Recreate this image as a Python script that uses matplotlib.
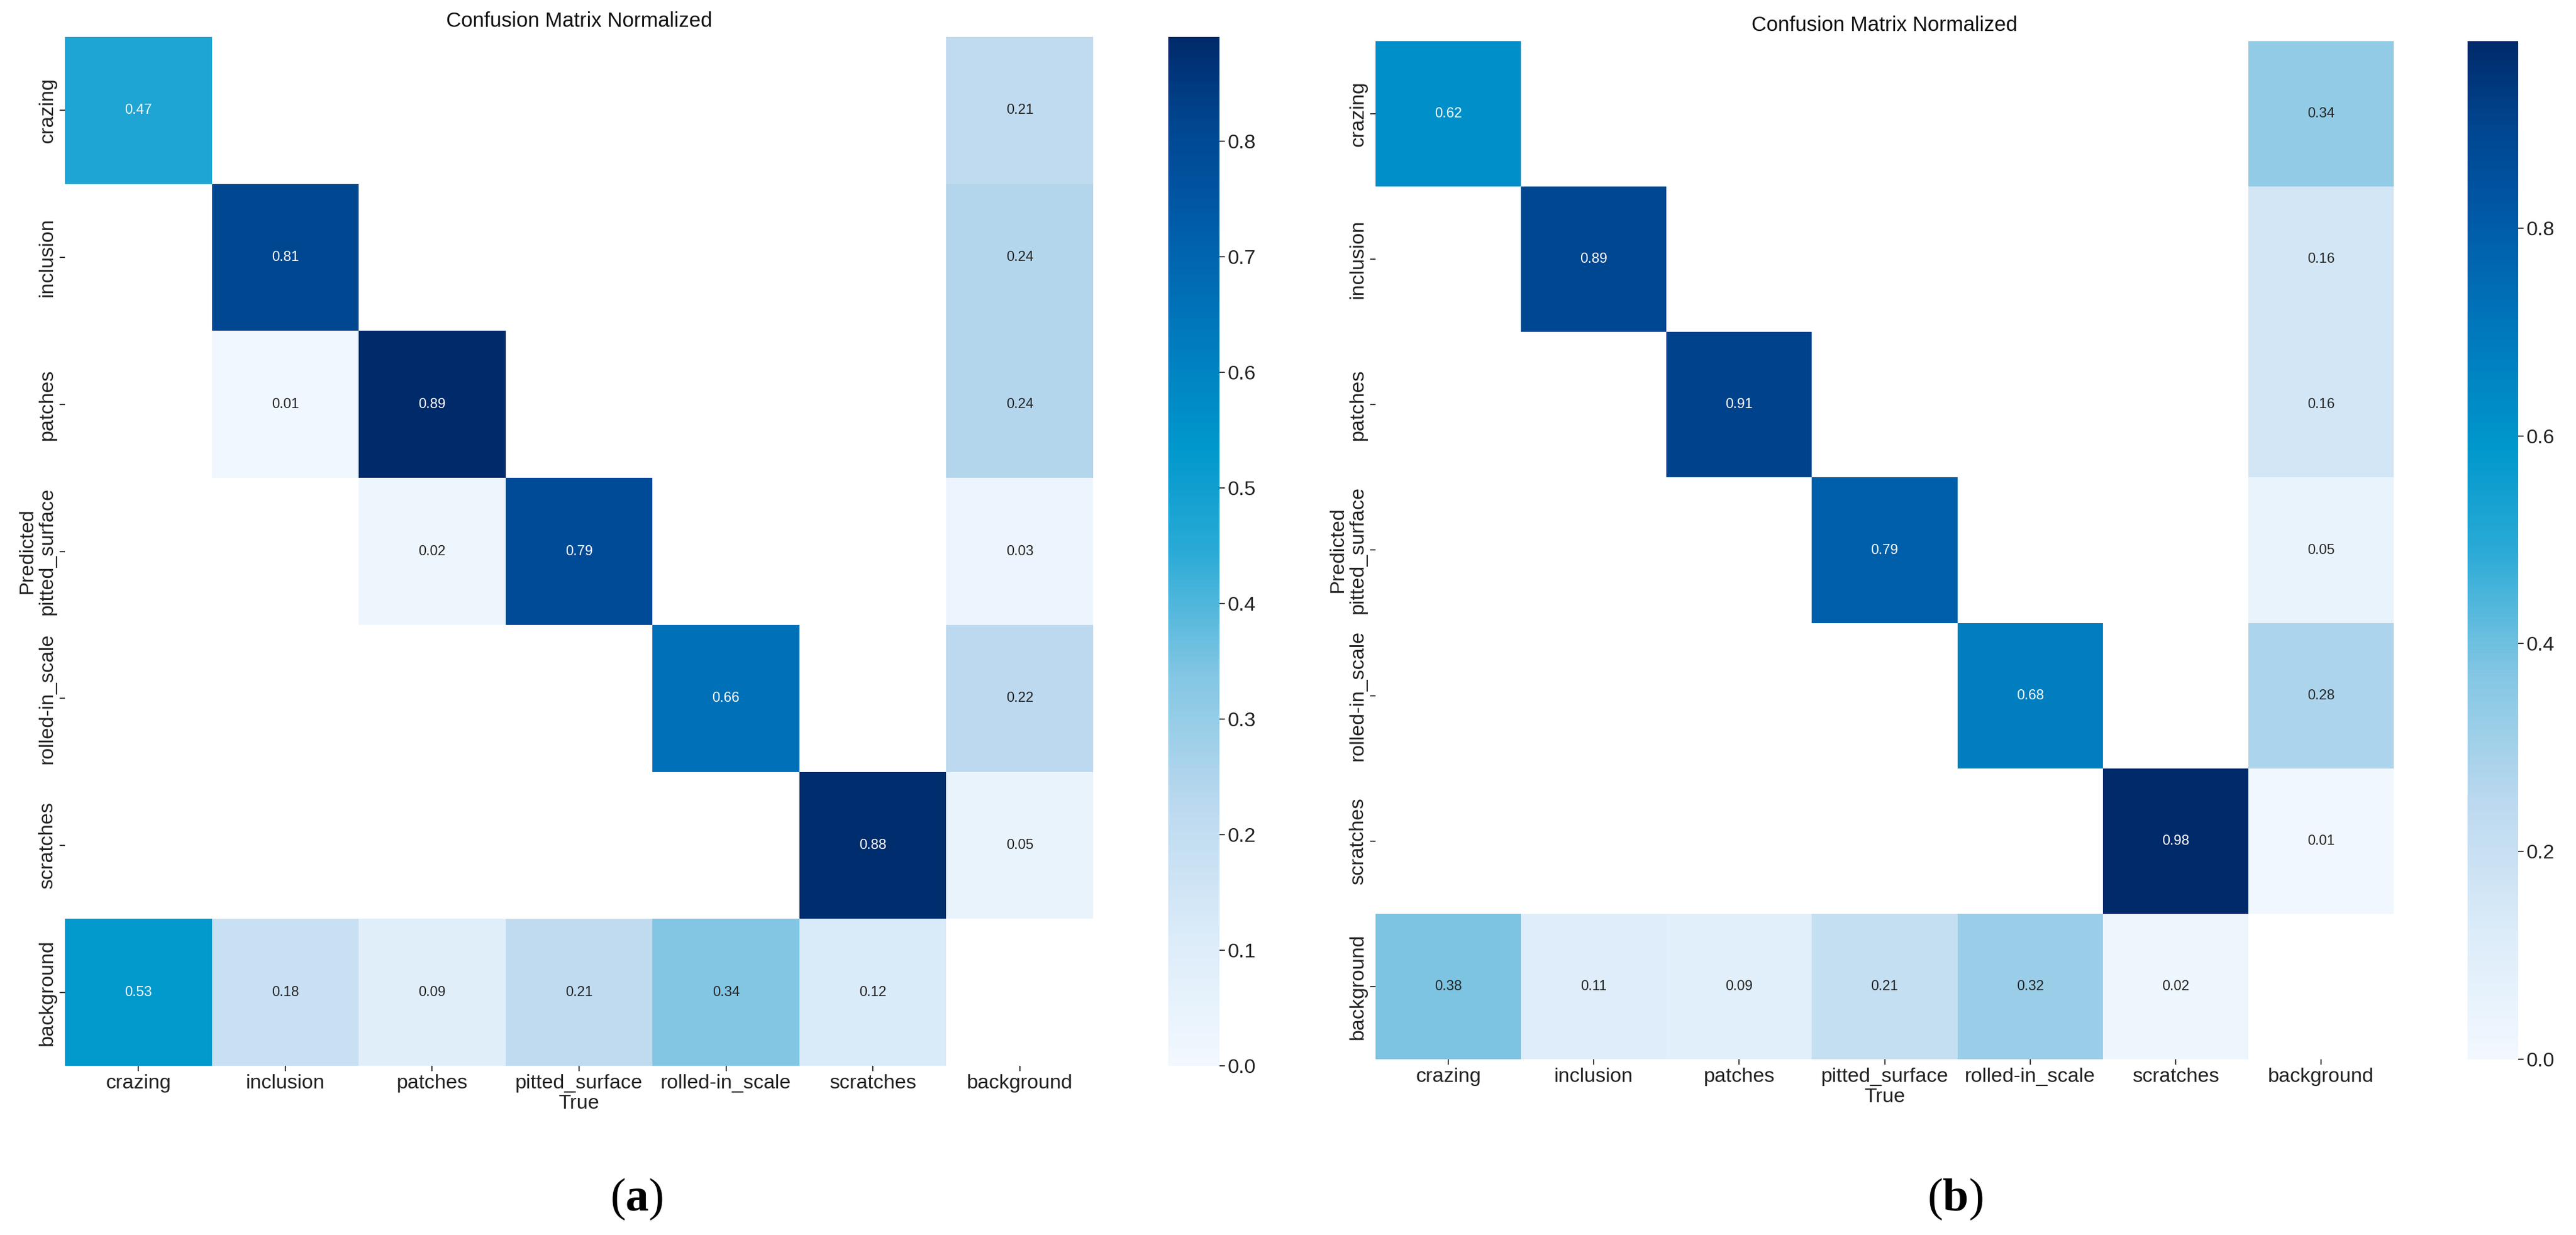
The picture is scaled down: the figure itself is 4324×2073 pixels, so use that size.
import numpy as np
import matplotlib
matplotlib.use('Agg')
import matplotlib.pyplot as plt
import seaborn as sns
from matplotlib.colors import LinearSegmentedColormap

nan = np.nan

# class names (rows = Predicted, cols = True)
labels = ['crazing', 'inclusion', 'patches', 'pitted_surface',
          'rolled-in_scale', 'scratches', 'background']

# normalized confusion matrix, model (a)
cm_a = [
    [0.47, nan, nan, nan, nan, nan, 0.21],
    [nan, 0.81, nan, nan, nan, nan, 0.24],
    [nan, 0.01, 0.89, nan, nan, nan, 0.24],
    [nan, nan, 0.02, 0.79, nan, nan, 0.03],
    [nan, nan, nan, nan, 0.66, nan, 0.22],
    [nan, nan, nan, nan, nan, 0.88, 0.05],
    [0.53, 0.18, 0.09, 0.21, 0.34, 0.12, nan],
]

# normalized confusion matrix, model (b)
cm_b = [
    [0.62, nan, nan, nan, nan, nan, 0.34],
    [nan, 0.89, nan, nan, nan, nan, 0.16],
    [nan, nan, 0.91, nan, nan, nan, 0.16],
    [nan, nan, nan, 0.79, nan, nan, 0.05],
    [nan, nan, nan, nan, 0.68, nan, 0.28],
    [nan, nan, nan, nan, nan, 0.98, 0.01],
    [0.38, 0.11, 0.09, 0.21, 0.32, 0.02, nan],
]

cbar_ticks_a = [0.0, 0.1, 0.2, 0.3, 0.4, 0.5, 0.6, 0.7, 0.8]
cbar_ticks_b = [0.0, 0.2, 0.4, 0.6, 0.8]
panel_tags = ['a', 'b']

plt.rcParams['font.family'] = ['Liberation Sans', 'DejaVu Sans']
plt.rcParams['mathtext.fontset'] = 'custom'
plt.rcParams['mathtext.bf'] = 'Liberation Serif:bold'
plt.rcParams['mathtext.rm'] = 'Liberation Serif'

# blues with a cyan-ish middle, like the source picture
cmap = LinearSegmentedColormap.from_list('blues_cyan', [
    (0.00, '#f2f8fe'),
    (0.12, '#dcecf9'),
    (0.25, '#bcd9ef'),
    (0.38, '#82c6e3'),
    (0.50, '#2aaad6'),
    (0.60, '#0098cc'),
    (0.72, '#0077bc'),
    (0.85, '#0054a2'),
    (0.92, '#00458f'),
    (1.00, '#002a6a'),
])

W, H = 4324, 2073
fig = plt.figure(figsize=(W / 100, H / 100), dpi=100)


def px_rect(x0, y0, x1, y1):
    """pixel box (top-left origin) -> figure fraction rect"""
    return [x0 / W, (H - y1) / H, (x1 - x0) / W, (y1 - y0) / H]


layouts = [
    dict(heat=(109, 62, 1835, 1789), cbar=(1961, 62, 2047, 1789), tag=(1069, 2013)),
    dict(heat=(2309, 69, 4018, 1778), cbar=(4142, 69, 4227, 1778), tag=(3282, 2013)),
]

for data, ticks, lay, tag in zip([cm_a, cm_b], [cbar_ticks_a, cbar_ticks_b], layouts, panel_tags):
    arr = np.array(data, dtype=float)
    ax = fig.add_axes(px_rect(*lay['heat']))
    cax = fig.add_axes(px_rect(*lay['cbar']))
    sns.heatmap(arr, ax=ax, cbar_ax=cax, cmap=cmap, vmin=0.0, vmax=np.nanmax(arr),
                annot=True, fmt='.2f', annot_kws={'size': 17},
                xticklabels=labels, yticklabels=labels)
    ax.set_facecolor('white')
    for s in ax.spines.values():
        s.set_visible(False)
    ax.tick_params(length=6.5, width=1.3, labelsize=24.5, colors='#222222')
    ax.set_xlabel('True', fontsize=24.5, color='#222222', labelpad=2)
    ax.set_ylabel('Predicted', fontsize=24.5, color='#222222', labelpad=2)
    ax.set_title('Confusion Matrix Normalized', fontsize=25, pad=12, color='#111111')

    cax.set_yticks(ticks)
    cax.set_yticklabels([f'{t:.1f}' for t in ticks])
    cax.tick_params(labelsize=24.5, length=6.5, width=1.3, colors='#222222')

    tx, ty = lay['tag']
    fig.text(tx / W, 1 - ty / H, r'($\mathbf{' + tag + r'}$)', fontsize=56,
             family='Liberation Serif', ha='center', va='center')

fig.savefig('out.png', dpi=100, facecolor='white')
